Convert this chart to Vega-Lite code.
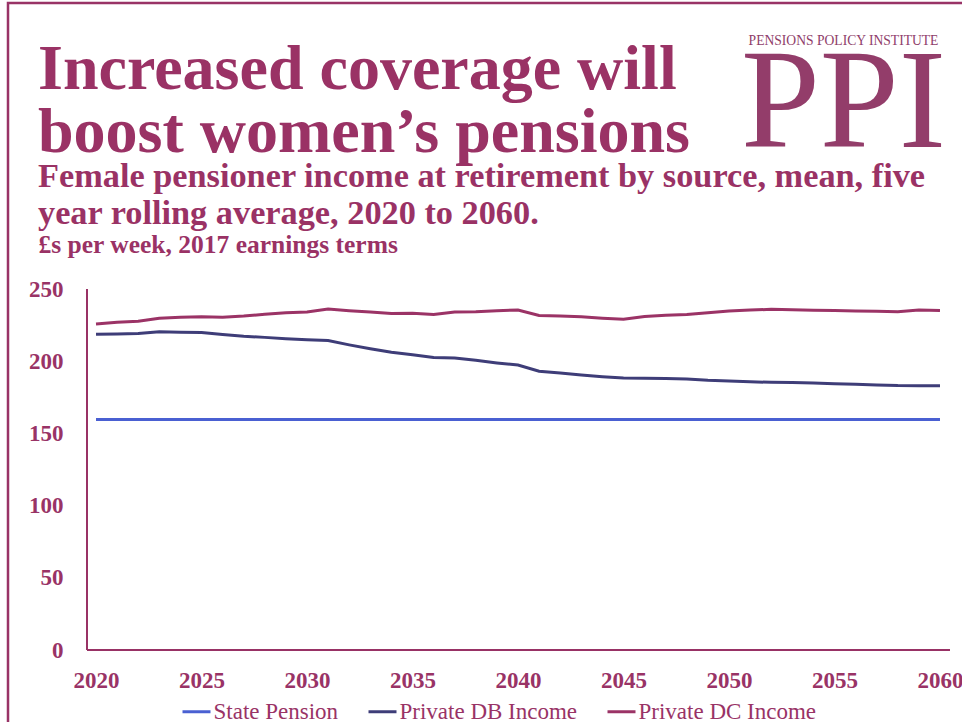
{
  "$schema": "https://vega.github.io/schema/vega-lite/v6.json",
  "width": 954,
  "height": 719,
  "autosize": "none",
  "padding": {"left": 8, "top": 3, "right": 0, "bottom": 0},
  "background": "white",
  "config": {
    "font": "Liberation Serif",
    "view": {"stroke": "#993366", "strokeWidth": 2.5, "strokeDash": [954, 1673, 719]}
  },
  "title": {
    "text": ["Increased coverage will", "boost women’s pensions"],
    "subtitle": ["Female pensioner income at retirement by source, mean, five", "year rolling average, 2020 to 2060."],
    "anchor": "start",
    "frame": "group",
    "orient": "top",
    "offset": -228,
    "dx": 30,
    "font": "Liberation Serif",
    "fontSize": 64,
    "lineHeight": 63,
    "fontWeight": "bold",
    "color": "#9a3265",
    "subtitleFont": "Liberation Serif",
    "subtitleFontSize": 34.3,
    "subtitleLineHeight": 37,
    "subtitleFontWeight": "bold",
    "subtitleColor": "#9a3265",
    "subtitlePadding": -5
  },
  "data": {
    "values": [
      {"year": 2020, "State Pension": 159.6, "Private DB Income": 218.6, "Private DC Income": 225.8},
      {"year": 2021, "State Pension": 159.6, "Private DB Income": 218.9, "Private DC Income": 227.0},
      {"year": 2022, "State Pension": 159.6, "Private DB Income": 219.2, "Private DC Income": 227.6},
      {"year": 2023, "State Pension": 159.6, "Private DB Income": 220.4, "Private DC Income": 229.8},
      {"year": 2024, "State Pension": 159.6, "Private DB Income": 220.1, "Private DC Income": 230.4},
      {"year": 2025, "State Pension": 159.6, "Private DB Income": 219.8, "Private DC Income": 230.7},
      {"year": 2026, "State Pension": 159.6, "Private DB Income": 218.5, "Private DC Income": 230.5},
      {"year": 2027, "State Pension": 159.6, "Private DB Income": 217.3, "Private DC Income": 231.3},
      {"year": 2028, "State Pension": 159.6, "Private DB Income": 216.5, "Private DC Income": 232.5},
      {"year": 2029, "State Pension": 159.6, "Private DB Income": 215.6, "Private DC Income": 233.6},
      {"year": 2030, "State Pension": 159.6, "Private DB Income": 214.8, "Private DC Income": 234.1},
      {"year": 2031, "State Pension": 159.6, "Private DB Income": 214.3, "Private DC Income": 236.1},
      {"year": 2032, "State Pension": 159.6, "Private DB Income": 211.3, "Private DC Income": 234.9},
      {"year": 2033, "State Pension": 159.6, "Private DB Income": 208.6, "Private DC Income": 234.0},
      {"year": 2034, "State Pension": 159.6, "Private DB Income": 206.2, "Private DC Income": 233.0},
      {"year": 2035, "State Pension": 159.6, "Private DB Income": 204.5, "Private DC Income": 233.2},
      {"year": 2036, "State Pension": 159.6, "Private DB Income": 202.5, "Private DC Income": 232.3},
      {"year": 2037, "State Pension": 159.6, "Private DB Income": 202.2, "Private DC Income": 234.0},
      {"year": 2038, "State Pension": 159.6, "Private DB Income": 200.6, "Private DC Income": 234.3},
      {"year": 2039, "State Pension": 159.6, "Private DB Income": 198.8, "Private DC Income": 235.0},
      {"year": 2040, "State Pension": 159.6, "Private DB Income": 197.3, "Private DC Income": 235.4},
      {"year": 2041, "State Pension": 159.6, "Private DB Income": 193.0, "Private DC Income": 231.6},
      {"year": 2042, "State Pension": 159.6, "Private DB Income": 191.8, "Private DC Income": 231.3},
      {"year": 2043, "State Pension": 159.6, "Private DB Income": 190.4, "Private DC Income": 230.8},
      {"year": 2044, "State Pension": 159.6, "Private DB Income": 189.2, "Private DC Income": 229.8},
      {"year": 2045, "State Pension": 159.6, "Private DB Income": 188.3, "Private DC Income": 229.1},
      {"year": 2046, "State Pension": 159.6, "Private DB Income": 188.2, "Private DC Income": 231.0},
      {"year": 2047, "State Pension": 159.6, "Private DB Income": 188.0, "Private DC Income": 231.8},
      {"year": 2048, "State Pension": 159.6, "Private DB Income": 187.7, "Private DC Income": 232.4},
      {"year": 2049, "State Pension": 159.6, "Private DB Income": 186.8, "Private DC Income": 233.5},
      {"year": 2050, "State Pension": 159.6, "Private DB Income": 186.3, "Private DC Income": 234.8},
      {"year": 2051, "State Pension": 159.6, "Private DB Income": 185.7, "Private DC Income": 235.4},
      {"year": 2052, "State Pension": 159.6, "Private DB Income": 185.4, "Private DC Income": 235.9},
      {"year": 2053, "State Pension": 159.6, "Private DB Income": 185.2, "Private DC Income": 235.7},
      {"year": 2054, "State Pension": 159.6, "Private DB Income": 184.9, "Private DC Income": 235.3},
      {"year": 2055, "State Pension": 159.6, "Private DB Income": 184.4, "Private DC Income": 235.1},
      {"year": 2056, "State Pension": 159.6, "Private DB Income": 184.0, "Private DC Income": 234.8},
      {"year": 2057, "State Pension": 159.6, "Private DB Income": 183.6, "Private DC Income": 234.6},
      {"year": 2058, "State Pension": 159.6, "Private DB Income": 183.1, "Private DC Income": 234.3},
      {"year": 2059, "State Pension": 159.6, "Private DB Income": 183.0, "Private DC Income": 235.4},
      {"year": 2060, "State Pension": 159.6, "Private DB Income": 183.0, "Private DC Income": 235.1}
    ]
  },
  "resolve": {"axis": {"y": "independent"}},
  "layer": [
    {
      "transform": [{"fold": ["State Pension", "Private DB Income", "Private DC Income"], "as": ["series", "value"]}],
      "mark": {"type": "line", "strokeWidth": 3},
      "encoding": {
        "x": {
          "field": "year",
          "type": "quantitative",
          "scale": {"domain": [2015.829, 2061.043], "nice": false, "zero": false},
          "axis": {
            "orient": "bottom",
            "offset": -35,
            "values": [2020, 2025, 2030, 2035, 2040, 2045, 2050, 2055, 2060],
            "format": "d",
            "domain": false,
            "ticks": false,
            "tickSize": 0,
            "grid": false,
            "labelPadding": 0,
            "labelBaseline": "alphabetic",
            "labelFlush": false,
            "labelOverlap": false,
            "labelFont": "Liberation Serif",
            "labelFontSize": 23,
            "labelFontWeight": "bold",
            "labelColor": "#993366",
            "title": "PENSIONS POLICY INSTITUTE",
            "titleX": 835,
            "titleY": -642.7,
            "titleAlign": "center",
            "titleAnchor": null,
            "titleBaseline": "alphabetic",
            "titleAngle": 0,
            "titleFont": "Liberation Serif",
            "titleFontSize": 13.6,
            "titleFontWeight": "normal",
            "titleColor": "#8f3d69"
          }
        },
        "y": {
          "field": "value",
          "type": "quantitative",
          "scale": {"domain": [-49.86, 448.06], "nice": false, "zero": false},
          "axis": {
            "orient": "left",
            "offset": -55,
            "values": [0, 50, 100, 150, 200, 250],
            "domain": false,
            "ticks": false,
            "tickSize": 0,
            "grid": false,
            "labelPadding": 0,
            "labelAlign": "right",
            "labelBaseline": "middle",
            "labelOverlap": false,
            "labelFlush": false,
            "labelFont": "Liberation Serif",
            "labelFontSize": 23,
            "labelFontWeight": "bold",
            "labelColor": "#993366",
            "title": "£s per week, 2017 earnings terms",
            "titleX": -25,
            "titleY": 249.7,
            "titleAlign": "left",
            "titleAnchor": null,
            "titleBaseline": "alphabetic",
            "titleAngle": 0,
            "titleFont": "Liberation Serif",
            "titleFontSize": 25.5,
            "titleFontWeight": "bold",
            "titleColor": "#9a3265"
          }
        },
        "color": {
          "field": "series",
          "type": "nominal",
          "scale": {
            "domain": ["State Pension", "Private DB Income", "Private DC Income"],
            "range": ["#4a60d2", "#3e3d78", "#9b3366"]
          },
          "legend": {
            "orient": "none",
            "legendX": 173,
            "legendY": 693,
            "direction": "horizontal",
            "title": null,
            "padding": 0,
            "symbolType": "stroke",
            "symbolSize": 784,
            "symbolStrokeWidth": 3,
            "labelFont": "Liberation Serif",
            "labelFontSize": 23,
            "labelColor": "#993366",
            "labelOffset": 1.5,
            "columnPadding": 23,
            "labelLimit": 400
          }
        }
      }
    },
    {
      "mark": {"type": "rule", "color": "#993366", "strokeWidth": 1.5},
      "encoding": {
        "x": {"datum": 2019.573, "type": "quantitative"},
        "y": {
          "datum": 0,
          "type": "quantitative",
          "axis": {
            "orient": "right",
            "offset": 0,
            "labels": false,
            "ticks": false,
            "domain": false,
            "grid": false,
            "title": "PPI",
            "titleX": -119,
            "titleY": 143.7,
            "titleAlign": "center",
            "titleAnchor": null,
            "titleBaseline": "alphabetic",
            "titleAngle": 0,
            "titleFont": "Liberation Serif",
            "titleFontSize": 142,
            "titleFontWeight": "normal",
            "titleColor": "#933d6a"
          }
        },
        "y2": {"datum": 250}
      }
    },
    {
      "mark": {"type": "rule", "color": "#993366", "strokeWidth": 1.5},
      "encoding": {
        "x": {"datum": 2019.573, "type": "quantitative"},
        "x2": {"datum": 2060.474},
        "y": {"datum": 0, "type": "quantitative", "axis": null}
      }
    }
  ]
}
